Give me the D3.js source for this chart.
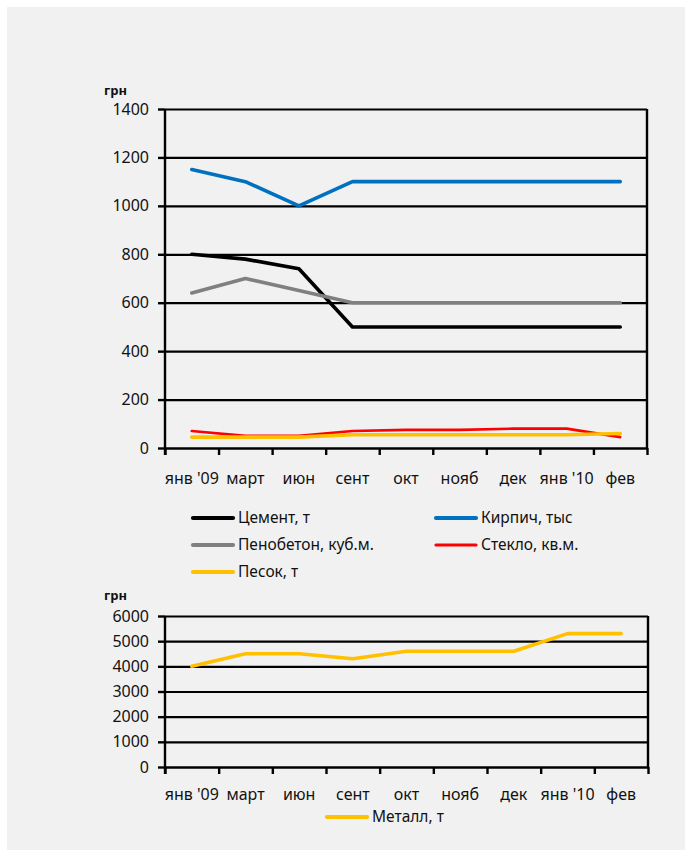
<!DOCTYPE html>
<html>
<head>
<meta charset="utf-8">
<script src="https://cdn.jsdelivr.net/npm/d3@7"></script>
<style>
  body { margin: 0; background: #fff; }
  svg { display: block; font-family: "Noto Sans", "Open Sans", sans-serif; }
  .axis path, .axis line { stroke: #000; stroke-width: 2.4; }
  .grid line { stroke: #000; stroke-width: 2.2; }
  .grid path { display: none; }
</style>
</head>
<body>
<svg id="chart" width="685" height="850"></svg>
<script>
// ── Data ──────────────────────────────────────────────────────────────────────
const months = ["янв '09", "март", "июн", "сент", "окт", "нояб", "дек", "янв '10", "фев"];

const cement   = [800, 780, 740, 500, 500, 500, 500, 500, 500];
const brick    = [1150, 1100, 1000, 1100, 1100, 1100, 1100, 1100, 1100];
const foam     = [640, 700, 650, 600, 600, 600, 600, 600, 600];
const glass    = [70, 50, 50, 70, 75, 75, 80, 80, 45];
const sand     = [45, 45, 45, 55, 55, 55, 55, 55, 60];
const metal    = [4000, 4500, 4500, 4300, 4600, 4600, 4600, 5300, 5300];

const topTicks    = [0, 200, 400, 600, 800, 1000, 1200, 1400];
const bottomTicks = [0, 1000, 2000, 3000, 4000, 5000, 6000];

const topSeries = [
  { name: "Цемент, т",          values: cement, color: "#000000", width: 3.6 },
  { name: "Кирпич, тыс",        values: brick,  color: "#0070c0", width: 3.6 },
  { name: "Пенобетон,  куб.м.", values: foam,   color: "#808080", width: 3.6 },
  { name: "Стекло, кв.м.",      values: glass,  color: "#ff0000", width: 2.6 },
  { name: "Песок, т",           values: sand,   color: "#ffc000", width: 3.6 }
];
const bottomSeries = [
  { name: "Металл, т", values: metal, color: "#ffc000", width: 3.6 }
];

const FONT = 16;

// ── Page ──────────────────────────────────────────────────────────────────────
const svg = d3.select("#chart");
svg.append("rect")
  .attr("x", 7).attr("y", 7).attr("width", 678).attr("height", 843)
  .attr("fill", "#f1f1f1");

function styleText(sel) {
  sel.selectAll("text")
    .style("font-size", FONT + "px")
    .style("font-family", '"Noto Sans", "Open Sans", sans-serif')
    .style("fill", "#111");
}

function drawPanel(opts) {
  const { x0, x1, yTop, yBottom, max, ticks, series, labelY, unitY } = opts;
  const g = svg.append("g");

  const xb = d3.scaleBand().domain(months).range([x0, x1]).padding(0);
  const xi = d3.scaleLinear().domain([0, months.length]).range([x0, x1]);
  const y  = d3.scaleLinear().domain([0, max]).range([yBottom, yTop]);
  const cx = i => xb(months[i]) + xb.bandwidth() / 2;

  // grid
  g.append("g").attr("class", "grid")
    .attr("transform", `translate(${x0},0)`)
    .call(d3.axisLeft(y).tickValues(ticks.slice(1)).tickSize(-(x1 - x0)).tickFormat(""));

  // right border
  g.append("line")
    .attr("x1", x1).attr("x2", x1).attr("y1", yTop).attr("y2", yBottom)
    .attr("stroke", "#000").attr("stroke-width", 2.4);

  // y axis
  const ya = g.append("g").attr("class", "axis")
    .attr("transform", `translate(${x0},0)`)
    .call(d3.axisLeft(y).tickValues(ticks).tickFormat(d3.format("d"))
      .tickSize(7).tickPadding(9).tickSizeOuter(0));
  ya.select(".domain").attr("d", `M0,${yTop}V${yBottom + 7}`);
  styleText(ya);

  // x axis: boundary ticks
  g.append("g").attr("class", "axis")
    .attr("transform", `translate(0,${yBottom})`)
    .call(d3.axisBottom(xi).tickValues(d3.range(months.length + 1))
      .tickSize(7).tickFormat("").tickSizeOuter(0));

  // x labels
  const xl = g.append("g")
    .attr("transform", `translate(0,${labelY})`)
    .call(d3.axisBottom(xb).tickSize(0).tickPadding(0));
  xl.select(".domain").remove();
  xl.selectAll("text").attr("dy", 0);
  styleText(xl);

  // series lines
  const line = d3.line().x((v, i) => cx(i)).y(v => y(v));
  series.forEach(s => {
    g.append("path").datum(s.values)
      .attr("fill", "none")
      .attr("stroke", s.color)
      .attr("stroke-width", s.width)
      .attr("stroke-linejoin", "round")
      .attr("stroke-linecap", "round")
      .attr("d", line);
  });

  g.append("text")
    .attr("x", 104).attr("y", unitY)
    .style("font-size", "13px").style("font-weight", "bold").style("fill", "#111")
    .text("грн");
}

drawPanel({
  x0: 165, x1: 647, yTop: 109, yBottom: 448, max: 1400,
  ticks: topTicks, series: topSeries, labelY: 484, unitY: 95
});

drawPanel({
  x0: 165, x1: 648, yTop: 616, yBottom: 767, max: 6000,
  ticks: bottomTicks, series: bottomSeries, labelY: 800, unitY: 600
});

// ── Legends ───────────────────────────────────────────────────────────────────
function legendItem(s, x, y) {
  svg.append("line")
    .attr("x1", x).attr("x2", x + 40).attr("y1", y).attr("y2", y)
    .attr("stroke", s.color).attr("stroke-width", s.width + 0.6)
    .attr("stroke-linecap", "round");
  svg.append("text")
    .attr("x", x + 45).attr("y", y + 5)
    .style("font-size", "15.5px").style("fill", "#111")
    .text(s.name);
}

const legCols = [193, 436];
const legRows = [518, 545, 572];
topSeries.forEach((s, i) => {
  legendItem(s, legCols[i % 2], legRows[Math.floor(i / 2)]);
});
legendItem(bottomSeries[0], 327, 817);
</script>
</body>
</html>
